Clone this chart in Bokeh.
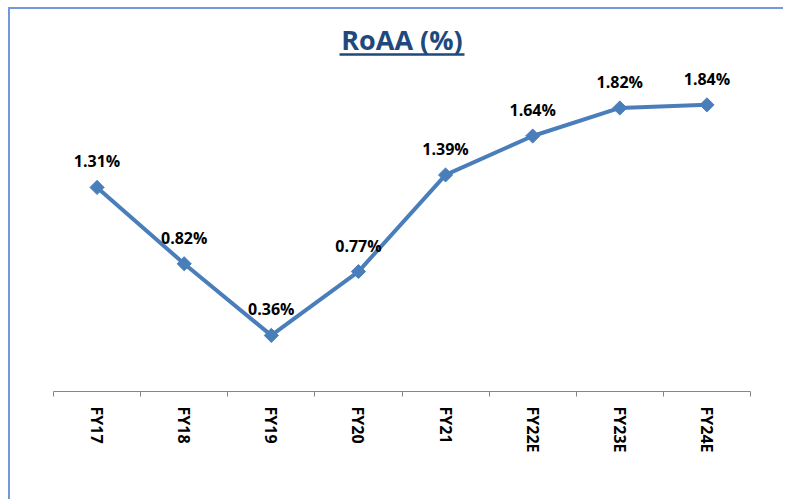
import math
from bokeh.plotting import figure
from bokeh.models import Range1d, FixedTicker, LinearAxis, ColumnDataSource
from bokeh.embed import file_html
from bokeh.resources import INLINE
from bokeh.core.properties import value

# ---- data ----
categories = ["FY17", "FY18", "FY19", "FY20", "FY21", "FY22E", "FY23E", "FY24E"]
roaa = [1.31, 0.82, 0.36, 0.77, 1.39, 1.64, 1.82, 1.84]
roaa_labels = ["1.31%", "0.82%", "0.36%", "0.77%", "1.39%", "1.64%", "1.82%", "1.84%"]
title_text = "RoAA (%)"

# ---- styling ----
LINE_COLOR = "#4A7EBB"
TITLE_COLOR = "#1F497D"
BORDER_COLOR = "#7398D9"
FONT = "Open Sans"

n = len(categories)
xs = [i + 0.5 for i in range(n)]

src = ColumnDataSource(dict(x=xs, y=roaa, lab=roaa_labels))

Y_END = 2.452
p = figure(width=775, height=492, output_backend="svg", toolbar_location=None,
           x_range=Range1d(0, n), y_range=Range1d(0, Y_END),
           min_border_left=43, min_border_right=35, min_border_top=0,
           min_border_bottom=110, x_axis_location=None, y_axis_location=None)
p.styles = {"border-left": f"2px solid {BORDER_COLOR}",
            "border-top": f"2px solid {BORDER_COLOR}",
            "margin-left": "8px", "margin-top": "7px"}
p.outline_line_color = None
p.xgrid.visible = False
p.ygrid.visible = False
p.background_fill_color = "white"
p.border_fill_color = "white"

# x axis: labels centered in categories, tick marks at category boundaries
ticker = FixedTicker(ticks=xs, minor_ticks=list(range(n + 1)))
xaxis = LinearAxis(ticker=ticker)
xaxis.major_label_overrides = {x: c for x, c in zip(xs, categories)}
xaxis.major_label_orientation = "vertical"
xaxis.major_label_text_font = FONT
xaxis.major_label_text_font_style = "bold"
xaxis.major_label_text_font_size = "16px"
xaxis.major_label_text_color = "black"
xaxis.major_label_standoff = 10
xaxis.major_tick_out = 0
xaxis.major_tick_in = 0
xaxis.minor_tick_out = 5
xaxis.minor_tick_in = 0
xaxis.minor_tick_line_color = "#868686"
xaxis.axis_line_color = "#868686"
xaxis.axis_line_width = 1
p.add_layout(xaxis, "below")

# line and markers
p.line("x", "y", source=src, line_color=LINE_COLOR, line_width=4)
p.scatter("x", "y", source=src, marker="square", size=10, angle=math.pi / 4,
          fill_color=LINE_COLOR, line_color=LINE_COLOR)

# data labels
p.text("x", "y", text="lab", source=src, text_align="center", text_baseline="middle",
       y_offset=-26, text_font=value(FONT), text_font_style="bold",
       text_font_size="16px", text_color="black")

# title with underline
TITLE_Y = 2.259
p.text(x=[n / 2], y=[TITLE_Y], text=[title_text], text_align="center",
       text_baseline="middle", text_font=value(FONT), text_font_style="bold",
       text_font_size="27px", text_color=TITLE_COLOR)
UNDER_Y = 2.163
UNDER_HALF = 0.717
p.segment(x0=[n / 2 - UNDER_HALF], y0=[UNDER_Y], x1=[n / 2 + UNDER_HALF], y1=[UNDER_Y],
          line_color=TITLE_COLOR, line_width=2.5)

open("out.html", "w").write(file_html(p, INLINE))
